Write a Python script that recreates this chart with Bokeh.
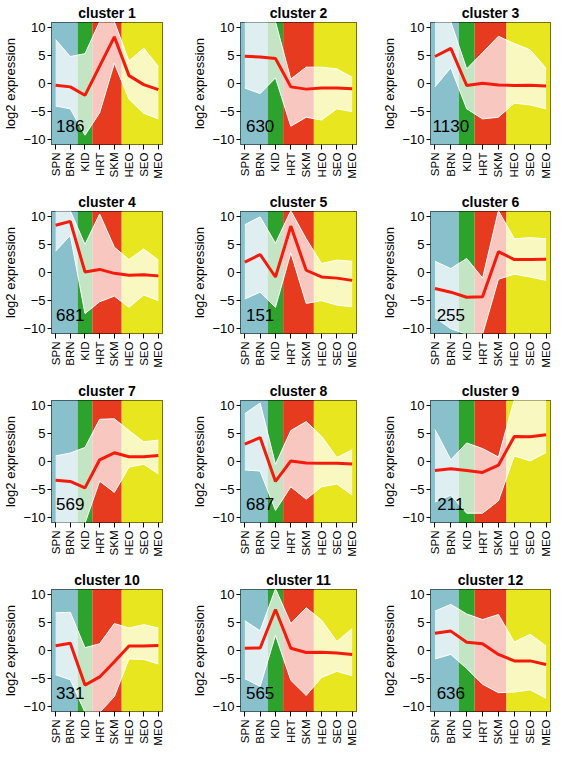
import numpy as np
from bokeh.plotting import figure
from bokeh.layouts import gridplot
from bokeh.models import FixedTicker, Range1d
from bokeh.core.properties import value
from bokeh.embed import file_html
from bokeh.resources import INLINE

# ---------------- data ----------------
tissues = ["SPN", "BRN", "KID", "HRT", "SKM", "HEO", "SEO", "MEO"]
tissue_groups = ["brain", "brain", "kidney", "muscle", "muscle", "organ", "organ", "organ"]
group_colors = {"brain": "#88c0cc", "kidney": "#2da22d", "muscle": "#e63b1f", "organ": "#e8e61e"}

cluster_titles = ["cluster 1", "cluster 2", "cluster 3", "cluster 4", "cluster 5", "cluster 6",
                  "cluster 7", "cluster 8", "cluster 9", "cluster 10", "cluster 11", "cluster 12"]
gene_counts = [186, 630, 1130, 681, 151, 255, 569, 687, 211, 331, 565, 636]

mean_profiles = [
    [-0.3, -0.6, -2.1, 3.1, 8.3, 1.4, -0.2, -1.1],
    [4.85, 4.7, 4.45, -0.6, -1.0, -0.8, -0.8, -0.95],
    [4.8, 6.25, -0.35, 0.05, -0.25, -0.35, -0.3, -0.45],
    [8.4, 9.1, 0.1, 0.55, -0.15, -0.5, -0.4, -0.6],
    [1.85, 3.2, -0.8, 8.25, 0.4, -0.8, -1.0, -1.4],
    [-2.85, -3.5, -4.4, -4.3, 3.7, 2.3, 2.3, 2.35],
    [-3.35, -3.55, -4.7, 0.3, 1.55, 0.85, 0.85, 1.05],
    [3.1, 4.25, -3.55, 0.1, -0.25, -0.3, -0.3, -0.45],
    [-1.6, -1.3, -1.6, -1.95, -0.65, 4.45, 4.4, 4.75],
    [0.85, 1.3, -6.15, -4.7, -2.0, 0.8, 0.8, 0.9],
    [0.4, 0.45, 7.3, 0.4, -0.35, -0.3, -0.45, -0.7],
    [3.05, 3.45, 1.45, 1.2, -0.7, -1.85, -1.85, -2.5],
]

upper_envelope = [
    [7.8, 4.8, 5.3, 11.0, 11.0, 4.0, 6.3, 3.0],
    [11.0, 11.0, 11.0, 0.8, 2.9, 2.9, 2.6, 1.1],
    [11.0, 11.0, 2.6, 5.5, 8.4, 7.1, 6.0, 2.7],
    [11.0, 11.0, 5.0, 10.4, 4.5, 2.3, 4.2, 2.2],
    [8.5, 9.9, 5.2, 11.0, 6.0, 1.6, 2.2, 2.0],
    [2.0, 0.7, 2.5, -1.0, 11.0, 6.0, 6.2, 6.0],
    [1.0, 1.5, 2.5, 7.5, 7.6, 5.5, 3.5, 3.8],
    [8.5, 10.4, -0.5, 5.5, 7.1, 4.5, 0.7, 2.1],
    [5.7, 0.3, 3.3, 2.3, 0.8, 11.0, 11.0, 11.0],
    [6.7, 6.8, 0.5, 1.2, 4.8, 4.0, 4.6, 4.0],
    [5.3, 3.5, 11.0, 4.8, 7.6, 5.4, 1.6, 3.9],
    [7.0, 8.2, 6.5, 5.5, 6.4, 1.5, 2.9, 0.8],
]

lower_envelope = [
    [-4.0, -4.5, -9.2, -5.2, 3.6, -2.8, -5.3, -6.3],
    [-0.8, -1.8, 1.0, -7.6, -6.0, -6.5, -4.5, -5.0],
    [-0.6, 2.8, -4.5, -6.3, -6.0, -3.5, -3.8, -4.5],
    [3.8, 6.6, -7.3, -5.2, -4.2, -6.2, -4.0, -5.0],
    [-4.7, -3.5, -6.2, 3.5, -5.5, -5.0, -5.8, -6.1],
    [-8.0, -10.0, -11.0, -11.0, -1.2, -0.3, -0.8, -1.4],
    [-11.0, -11.0, -11.0, -3.5, -5.5, -1.0, -0.5, -2.2],
    [-1.5, -1.7, -8.7, -4.5, -6.7, -4.5, -4.0, -6.0],
    [-7.2, -6.0, -9.2, -9.2, -7.0, 1.0, 0.1, 1.6],
    [-4.3, -5.2, -11.0, -11.0, -8.2, -1.5, -1.6, -2.4],
    [-5.0, -6.4, 2.7, -5.3, -8.0, -4.8, -3.7, -4.5],
    [-1.5, -0.7, -3.2, -6.0, -7.5, -7.4, -7.0, -8.5],
]

y_ticks = [-10, -5, 0, 5, 10]

# ---------------- layout ----------------
FONT = "Liberation Sans"
col_widths = [189, 190, 172]
col_left = [42, 47, 51]
col_right = [27, 23, 1]
row_height = 189
X_LO, X_HI = 0.72, 8.28
Y_LO, Y_HI = -10.85, 10.85

positions = list(range(1, len(tissues) + 1))

# contiguous tissue-group spans
spans = []
start = 0
for i in range(1, len(tissue_groups) + 1):
    if i == len(tissue_groups) or tissue_groups[i] != tissue_groups[start]:
        spans.append((start, i - 1, tissue_groups[start]))
        start = i


def make_panel(k, col):
    p = figure(width=col_widths[col], height=row_height,
               x_range=Range1d(X_LO, X_HI), y_range=Range1d(Y_LO, Y_HI),
               min_border_left=col_left[col], min_border_right=col_right[col],
               min_border_top=22, min_border_bottom=45,
               output_backend="svg", toolbar_location=None, title=cluster_titles[k])
    p.title.align = "center"
    p.title.text_font = FONT
    p.title.text_font_size = "14px"
    p.title.text_font_style = "bold"
    p.title.text_color = "black"
    p.title.standoff = 3

    # tissue-group bands
    for a, b, g in spans:
        left = positions[a] - 0.5 if a > 0 else X_LO - 1
        right = positions[b] + 0.5 if b < len(positions) - 1 else X_HI + 1
        p.quad(left=[left], right=[right], bottom=[Y_LO - 1], top=[Y_HI + 1],
               fill_color=group_colors[g], line_color=None)

    up = upper_envelope[k]
    lo = lower_envelope[k]
    p.patch(positions + positions[::-1], up + lo[::-1],
            fill_color="white", fill_alpha=0.72, line_color=None)
    p.line(positions, up, line_color="white", line_width=1)
    p.line(positions, lo, line_color="white", line_width=1)
    p.line(positions, mean_profiles[k], line_color="#f41a0c", line_width=3)

    p.text(x=[2], y=[-7.5], text=[str(gene_counts[k])], text_align="center",
           text_baseline="middle", text_font=value(FONT), text_font_size="17px",
           text_color="black")

    p.xgrid.visible = False
    p.ygrid.visible = False
    p.outline_line_color = "black"
    p.outline_line_width = 1
    p.outline_line_alpha = 1

    xa = p.xaxis[0]
    xa.ticker = FixedTicker(ticks=positions)
    xa.major_label_overrides = {pos: t for pos, t in zip(positions, tissues)}
    xa.major_label_orientation = np.pi / 2
    xa.major_label_text_font = FONT
    xa.major_label_text_font_size = "11.5px"
    xa.major_label_text_color = "black"
    xa.major_label_standoff = 3
    xa.axis_line_color = None
    xa.major_tick_out = 5
    xa.major_tick_in = 0
    xa.minor_tick_line_color = None
    xa.major_tick_line_color = "black"

    ya = p.yaxis[0]
    ya.ticker = FixedTicker(ticks=y_ticks)
    ya.axis_label = "log2 expression"
    ya.axis_label_text_font = FONT
    ya.axis_label_text_font_size = "13px"
    ya.axis_label_text_font_style = "normal"
    ya.axis_label_text_color = "black"
    ya.axis_label_standoff = 2
    ya.major_label_text_font = FONT
    ya.major_label_text_font_size = "13px"
    ya.major_label_text_color = "black"
    ya.major_label_standoff = 2
    ya.axis_line_color = None
    ya.major_tick_out = 4
    ya.major_tick_in = 0
    ya.minor_tick_line_color = None
    ya.major_tick_line_color = "black"
    return p


rows = []
for r in range(4):
    rows.append([make_panel(r * 3 + c, c) for c in range(3)])

grid = gridplot(rows, toolbar_location=None)

open("out.html", "w").write(file_html(grid, INLINE))
